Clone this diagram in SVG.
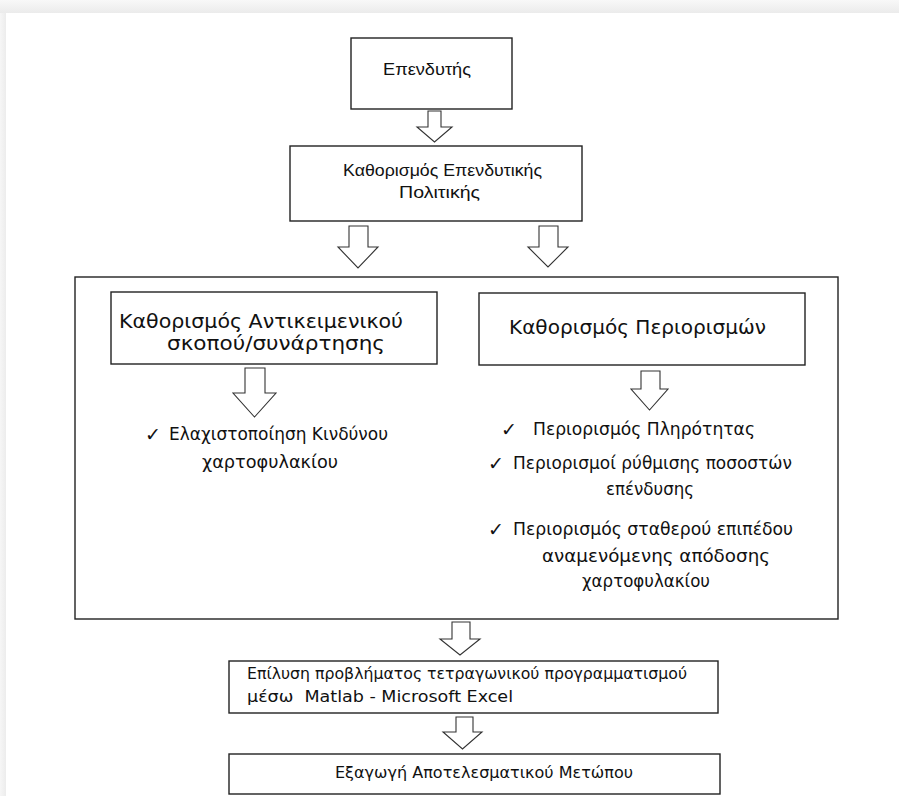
<svg xmlns="http://www.w3.org/2000/svg" width="899" height="796" viewBox="0 0 899 796">
<defs>
<linearGradient id="gt" x1="0" y1="0" x2="0" y2="1"><stop offset="0" stop-color="#f8f8f8"/><stop offset="1" stop-color="#ebebeb"/></linearGradient>
<linearGradient id="gl" x1="0" y1="0" x2="1" y2="0"><stop offset="0" stop-color="#f6f6f6"/><stop offset="1" stop-color="#ececec"/></linearGradient>
<style>
.box{fill:#fff;stroke:#222;stroke-width:1.4}
.frame{fill:none;stroke:#222;stroke-width:1.4}
.arr{fill:#fff;stroke:#333;stroke-width:1.1;stroke-linejoin:miter}
.a{font-family:"Liberation Sans",Arial,sans-serif;fill:#111}
.c{font-family:"DejaVu Sans","Noto Sans",sans-serif;fill:#111}
.ck{font-family:"DejaVu Sans",sans-serif;fill:#111;font-size:19px}
</style>
</defs>
<rect x="0" y="0" width="899" height="796" fill="#fff"/>
<rect x="0" y="0" width="899" height="13" fill="url(#gt)"/>
<rect x="0" y="13" width="6" height="783" fill="url(#gl)"/>

<g id="model">
<rect class="frame" x="75" y="277" width="763" height="342"/>
</g>

<g id="investor">
<rect class="box" x="351" y="38" width="161" height="71"/>
<text class="a" x="383" y="75" font-size="17" textLength="88" lengthAdjust="spacingAndGlyphs">Επενδυτής</text>
</g>

<g id="policy">
<rect class="box" x="290" y="146" width="292" height="75"/>
<text class="a" x="343" y="176" font-size="17" textLength="199" lengthAdjust="spacingAndGlyphs">Καθορισμός Επενδυτικής</text>
<text class="a" x="399" y="198" font-size="17" textLength="81" lengthAdjust="spacingAndGlyphs">Πολιτικής</text>
</g>

<g id="objective">
<rect class="box" x="111" y="292" width="326" height="72"/>
<text class="c" x="119" y="328" font-size="19" textLength="284" lengthAdjust="spacingAndGlyphs">Καθορισμός Αντικειμενικού</text>
<text class="c" x="167" y="350" font-size="19" textLength="218" lengthAdjust="spacingAndGlyphs">σκοπού/συνάρτησης</text>
<text class="ck" x="145" y="441">✓</text>
<text class="c" x="169" y="440" font-size="17" textLength="219" lengthAdjust="spacingAndGlyphs">Ελαχιστοποίηση Κινδύνου</text>
<text class="c" x="202" y="468" font-size="17" textLength="136" lengthAdjust="spacingAndGlyphs">χαρτοφυλακίου</text>
</g>

<g id="constraints">
<rect class="box" x="479" y="293" width="326" height="72"/>
<text class="c" x="509" y="334" font-size="20" textLength="257" lengthAdjust="spacingAndGlyphs">Καθορισμός Περιορισμών</text>
<text class="ck" x="501" y="436">✓</text>
<text class="c" x="533" y="435" font-size="17" textLength="222" lengthAdjust="spacingAndGlyphs">Περιορισμός Πληρότητας</text>
<text class="ck" x="488" y="470">✓</text>
<text class="c" x="513" y="469" font-size="17" textLength="279" lengthAdjust="spacingAndGlyphs">Περιορισμοί ρύθμισης ποσοστών</text>
<text class="c" x="606" y="495" font-size="17" textLength="88" lengthAdjust="spacingAndGlyphs">επένδυσης</text>
<text class="ck" x="488" y="536">✓</text>
<text class="c" x="513" y="535" font-size="17" textLength="280" lengthAdjust="spacingAndGlyphs">Περιορισμός σταθερού επιπέδου</text>
<text class="c" x="542" y="562" font-size="17" textLength="228" lengthAdjust="spacingAndGlyphs">αναμενόμενης απόδοσης</text>
<text class="c" x="582" y="587" font-size="17" textLength="128" lengthAdjust="spacingAndGlyphs">χαρτοφυλακίου</text>
</g>

<g id="solve">
<rect class="box" x="229" y="661" width="489" height="52"/>
<text class="c" x="247" y="679" font-size="16" textLength="440" lengthAdjust="spacingAndGlyphs">Επίλυση προβλήματος τετραγωνικού προγραμματισμού</text>
<text class="c" x="247" y="702" font-size="16" textLength="266" lengthAdjust="spacingAndGlyphs" style="white-space:pre">μέσω  Matlab - Microsoft Excel</text>
</g>

<g id="frontier">
<rect class="box" x="229" y="754" width="491" height="40"/>
<text class="c" x="335" y="778" font-size="16" textLength="298" lengthAdjust="spacingAndGlyphs">Εξαγωγή Αποτελεσματικού Μετώπου</text>
</g>

<g id="connectors">
<path class="arr" d="M428,111 L441,111 L441,127 L452,127 L434.5,142 L417,127 L428,127 Z"/>
<path class="arr" d="M349,226 L368,226 L368,247 L378,247 L358,268 L338,247 L349,247 Z"/>
<path class="arr" d="M539,226 L558,226 L558,247 L568,247 L548,267 L528,247 L539,247 Z"/>
<path class="arr" d="M245,368 L265,368 L265,393 L276,393 L254.5,417 L233,393 L245,393 Z"/>
<path class="arr" d="M641,371 L660,371 L660,389 L668,389 L649.5,410 L631,389 L641,389 Z"/>
<path class="arr" d="M452,622 L470,622 L470,639 L480,639 L460,655 L440,639 L452,639 Z"/>
<path class="arr" d="M456,717 L473,717 L473,732 L482,732 L462.5,749 L443,732 L456,732 Z"/>
</g>
</svg>
